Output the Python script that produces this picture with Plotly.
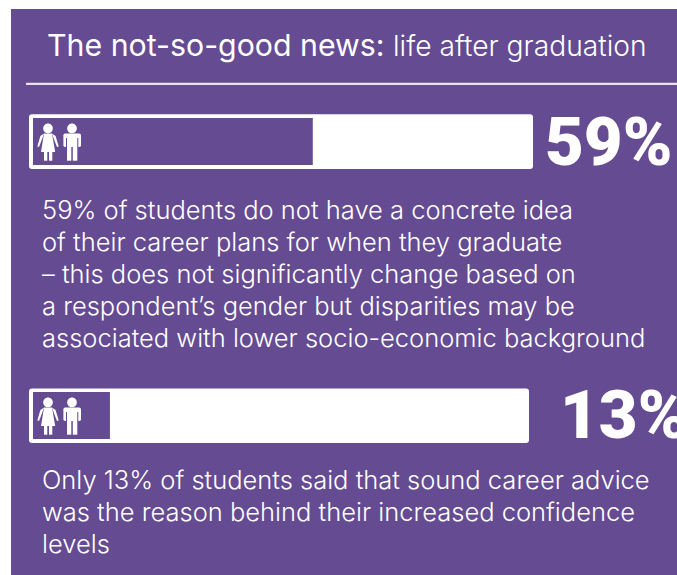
import plotly.graph_objects as go

# Survey results shown as progress bars
categories = ["Career plans unclear", "Career advice cited"]
percent_values = [59, 13]

title_bold = "The not-so-good news:"
title_light = "life after graduation"
body_first = [
    "59% of students do not have a concrete idea",
    "of their career plans for when they graduate",
    "– this does not significantly change based on",
    "a respondent’s gender but disparities may be",
    "associated with lower socio-economic background",
]
body_second = [
    "Only 13% of students said that sound career advice",
    "was the reason behind their increased confidence",
    "levels",
]

W, H = 677, 575
PURPLE = "#654B92"
WHITE = "#FFFFFF"
RULE = "#E9E3F0"
ROW_GAP = 274.0      # pixels between the two bars
BAR_H = 47.0
ROW_Y = [141.5, 415.5]
PX_PER_PCT = 4.41
ZERO_PX = 52.6       # horizontal pixel of the 0% position


def px(x):
    return x / W


def py(y):
    return 1 - y / H


def rounded(x0, y0, x1, y1, r):
    return (
        f"M{px(x0 + r)},{py(y0)} L{px(x1 - r)},{py(y0)} Q{px(x1)},{py(y0)} {px(x1)},{py(y0 + r)} "
        f"L{px(x1)},{py(y1 - r)} Q{px(x1)},{py(y1)} {px(x1 - r)},{py(y1)} "
        f"L{px(x0 + r)},{py(y1)} Q{px(x0)},{py(y1)} {px(x0)},{py(y1 - r)} "
        f"L{px(x0)},{py(y0 + r)} Q{px(x0)},{py(y0)} {px(x0 + r)},{py(y0)} Z"
    )


def poly(points):
    return "M" + " L".join(f"{px(x)},{py(y)}" for x, y in points) + " Z"


def disc(cx, cy, r):
    k = 0.5523 * r
    return (
        f"M{px(cx - r)},{py(cy)} "
        f"C{px(cx - r)},{py(cy - k)} {px(cx - k)},{py(cy - r)} {px(cx)},{py(cy - r)} "
        f"C{px(cx + k)},{py(cy - r)} {px(cx + r)},{py(cy - k)} {px(cx + r)},{py(cy)} "
        f"C{px(cx + r)},{py(cy + k)} {px(cx + k)},{py(cy + r)} {px(cx)},{py(cy + r)} "
        f"C{px(cx - k)},{py(cy + r)} {px(cx - r)},{py(cy + k)} {px(cx - r)},{py(cy)} Z"
    )


def solid(path, color=WHITE, layer="above"):
    return dict(type="path", xref="paper", yref="paper", path=path,
                fillcolor=color, line=dict(width=0), layer=layer)


def people_icon(dy):
    """Woman and man pictogram, shifted down by dy pixels."""
    woman = [
        disc(48, 128.4 + dy, 4.8),
        poly([(44, 133.5 + dy), (52, 133.5 + dy), (55.2, 152 + dy), (41, 152 + dy)]),
        poly([(44, 133.5 + dy), (40.4, 136 + dy), (37.3, 146.5 + dy), (39, 147 + dy), (42.5, 138 + dy)]),
        poly([(52, 133.5 + dy), (55.6, 136 + dy), (58.7, 146.5 + dy), (57, 147 + dy), (53.5, 138 + dy)]),
        poly([(44, 152 + dy), (47.3, 152 + dy), (47.3, 160.7 + dy), (44, 160.7 + dy)]),
        poly([(49, 152 + dy), (52.3, 152 + dy), (52.3, 160.7 + dy), (49, 160.7 + dy)]),
    ]
    man = [
        disc(72, 128.4 + dy, 4.8),
        rounded(63.4, 133.5 + dy, 81, 147 + dy, 1.8),
        poly([(67, 138 + dy), (71.3, 138 + dy), (71.3, 160.7 + dy), (67, 160.7 + dy)]),
        poly([(72.8, 138 + dy), (77.3, 138 + dy), (77.3, 160.7 + dy), (72.8, 160.7 + dy)]),
    ]
    # Slots separating the arms from the torso
    slots = [
        poly([(66, 138 + dy), (67, 138 + dy), (67, 147.5 + dy), (66, 147.5 + dy)]),
        poly([(77.3, 138 + dy), (78.3, 138 + dy), (78.3, 147.5 + dy), (77.3, 147.5 + dy)]),
    ]
    return [solid(p) for p in woman + man] + [solid(p, PURPLE) for p in slots]


def label(text, x, y, size, family="Inter", weight=300, color=WHITE):
    return dict(text=text, x=px(x), y=py(y), xref="paper", yref="paper",
                xanchor="left", yanchor="middle", showarrow=False, borderpad=0,
                font=dict(family=family, size=size, weight=weight, color=color))


shapes = [
    solid(poly([(11, 9), (W, 9), (W, H), (11, H)]), PURPLE, "below"),
    solid(poly([(26, 82.8), (W, 82.8), (W, 85), (26, 85)]), RULE, "below"),
    # White tracks and the purple icon cells at their left ends
    solid(rounded(29, 114.3, 533, 169, 3), WHITE, "below"),
    solid(rounded(29, 388.5, 529, 443, 3), WHITE, "below"),
    solid(poly([(33, 118), (ZERO_PX + 1, 118), (ZERO_PX + 1, 165), (33, 165)]), PURPLE, "below"),
    solid(poly([(33, 392), (ZERO_PX + 1, 392), (ZERO_PX + 1, 439), (33, 439)]), PURPLE, "below"),
]
shapes += people_icon(0) + people_icon(ROW_GAP)

annotations = [
    label(title_bold, 46, 45, 30.3, weight=400),
    label(title_light, 392, 46, 28.2, weight=300),
    label(f"{percent_values[0]}%", 544, 142, 67, family="Roboto", weight=900),
    label(f"{percent_values[1]}%", 559, 415, 67, family="Roboto", weight=900),
]
annotations += [label(t, 41, 209 + 32 * i, 25.5) for i, t in enumerate(body_first)]
annotations += [label(t, 41, 479 + 32 * i, 25.5) for i, t in enumerate(body_second)]

fig = go.Figure(
    go.Bar(
        x=percent_values,
        y=categories,
        orientation="h",
        width=BAR_H / ROW_GAP,
        marker=dict(color=PURPLE, line=dict(width=0)),
        hoverinfo="skip",
    )
)

fig.update_layout(
    width=W,
    height=H,
    autosize=False,
    margin=dict(l=0, r=0, t=0, b=0),
    paper_bgcolor=WHITE,
    plot_bgcolor="rgba(0,0,0,0)",
    showlegend=False,
    shapes=shapes,
    annotations=annotations,
    xaxis=dict(visible=False, range=[-ZERO_PX / PX_PER_PCT, (W - ZERO_PX) / PX_PER_PCT], fixedrange=True),
    yaxis=dict(
        visible=False,
        type="category",
        categoryorder="array",
        categoryarray=categories,
        range=[(H - ROW_Y[0]) / ROW_GAP, -ROW_Y[0] / ROW_GAP],
        fixedrange=True,
    ),
)

fig.write_html("out.html", config={"displayModeBar": False})
